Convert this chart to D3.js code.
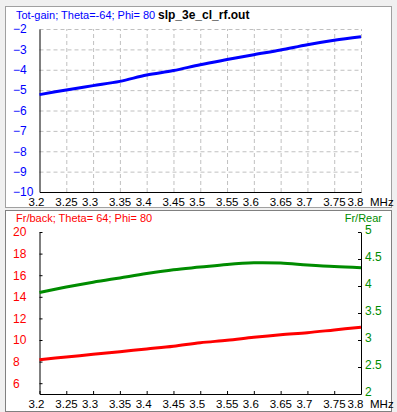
<!DOCTYPE html>
<html>
<head>
<meta charset="utf-8">
<script src="https://cdn.jsdelivr.net/npm/d3@7"></script>
<style>
  body { margin: 0; background: #f0f0f0; }
  svg { display: block; font-family: "Liberation Sans", Arial, sans-serif; }
  .grid line { stroke: #c0c0c0; stroke-dasharray: 4,3; }
  .grid path { display: none; }
</style>
</head>
<body>
<div id="chart"></div>
<script>
// frequency points (MHz)
const freqs = [3.2, 3.25, 3.3, 3.35, 3.4, 3.45, 3.5, 3.55, 3.6, 3.65, 3.7, 3.75, 3.8];
// top panel: total gain (dBi)
const totGain = [-5.22, -4.99, -4.78, -4.57, -4.26, -4.04, -3.75, -3.50, -3.26, -3.03, -2.77, -2.55, -2.38];
// bottom panel: front/back (left axis) and front/rear (right axis)
const frBack = [8.18, 8.43, 8.67, 8.92, 9.17, 9.42, 9.75, 9.97, 10.25, 10.49, 10.68, 10.93, 11.18];
const frRear = [3.88, 3.98, 4.07, 4.15, 4.23, 4.30, 4.35, 4.40, 4.43, 4.425, 4.39, 4.36, 4.34];

const xTicks = freqs;
const gainTicks = [-10, -9, -8, -7, -6, -5, -4, -3, -2];
const backTicks = [6, 8, 10, 12, 14, 16, 18, 20];
const rearTicks = [2, 2.5, 3, 3.5, 4, 4.5, 5];

const W = 397, H = 412;
const left = 39.5, right = 361;

const svg = d3.select('#chart').append('svg')
    .attr('width', W)
    .attr('height', H);

svg.append('rect').attr('width', W).attr('height', H).attr('fill', '#f0f0f0');

// panel frames
svg.append('rect').attr('x', 5.5).attr('y', 6.5).attr('width', 386).attr('height', 201)
    .attr('fill', '#fff').attr('stroke', '#a0a0a0');
svg.append('rect').attr('x', 5.5).attr('y', 210.5).attr('width', 386).attr('height', 201)
    .attr('fill', '#fff').attr('stroke', '#808080');

const x = d3.scaleLinear().domain([3.2, 3.8]).range([left, right]);

// ---------- top panel ----------
const topY0 = 192, topY1 = 29;
const yGain = d3.scaleLinear().domain([-10, -2]).range([topY0, topY1]);

// grid
svg.append('g')
    .attr('class', 'grid')
    .attr('transform', 'translate(0,' + topY0 + ')')
    .call(d3.axisBottom(x).tickValues(xTicks.slice(1)).tickSize(-(topY0 - topY1)).tickFormat(''));
svg.append('g')
    .attr('class', 'grid')
    .attr('transform', 'translate(' + left + ',0)')
    .call(d3.axisLeft(yGain).tickValues(gainTicks.slice(1)).tickSize(-(right - left)).tickFormat(''));

function drawXAxis(y0) {
    const g = svg.append('g')
        .attr('transform', 'translate(0,' + y0 + ')')
        .call(d3.axisBottom(x).tickValues(xTicks).tickSizeOuter(0).tickSizeInner(-3)
            .tickFormat(d3.format('')));
    g.select('.domain').attr('stroke', '#000');
    g.selectAll('.tick line').attr('stroke', '#000');
    g.selectAll('.tick text')
        .attr('text-anchor', 'start')
        .attr('x', (d, i) => i === xTicks.length - 1 ? -14 : -11.5)
        .attr('y', 14)
        .attr('dy', null)
        .attr('fill', '#000')
        .style('font-size', '11.5px');
    svg.append('text')
        .attr('x', 370).attr('y', y0 + 14)
        .style('font-size', '11.5px')
        .text('MHz');
    return g;
}

const topX = drawXAxis(topY0);
topX.selectAll('.tick line').attr('stroke', 'none');

const gainAxis = svg.append('g')
    .attr('transform', 'translate(' + left + ',0)')
    .call(d3.axisLeft(yGain).tickValues(gainTicks).tickSize(0).tickFormat(d3.format('')));
gainAxis.select('.domain').attr('stroke', '#000');
gainAxis.selectAll('.tick text')
    .attr('text-anchor', 'start')
    .attr('x', 13 - left)
    .attr('fill', '#0000ff')
    .style('font-size', '12px');

svg.append('path')
    .datum(freqs.map((f, i) => [f, totGain[i]]))
    .attr('fill', 'none')
    .attr('stroke', '#0000ff')
    .attr('stroke-width', 3)
    .attr('d', d3.line().x(d => x(d[0])).y(d => yGain(d[1])).curve(d3.curveCatmullRom));

svg.append('text')
    .attr('x', 16).attr('y', 19)
    .attr('fill', '#0000ff')
    .style('font-size', '11px')
    .text('Tot-gain; Theta=-64; Phi= 80');
svg.append('text')
    .attr('x', 158).attr('y', 19)
    .style('font-size', '12px')
    .style('font-weight', 'bold')
    .text('slp_3e_cl_rf.out');

// ---------- bottom panel ----------
const botY0 = 394, botY1 = 232;
const yBack = d3.scaleLinear().domain([5, 20]).range([botY0, botY1]);
const yRear = d3.scaleLinear().domain([2, 5]).range([botY0, botY1]);

drawXAxis(botY0);

const backAxis = svg.append('g')
    .attr('transform', 'translate(' + left + ',0)')
    .call(d3.axisLeft(yBack).tickValues(backTicks).tickSizeInner(-3).tickSizeOuter(0).tickFormat(d3.format('')));
backAxis.select('.domain').attr('stroke', '#000');
backAxis.selectAll('.tick line').attr('stroke', '#000');
backAxis.selectAll('.tick text')
    .attr('text-anchor', 'start')
    .attr('x', 13 - left)
    .attr('fill', '#ff0000')
    .style('font-size', '12px');

const rearAxis = svg.append('g')
    .attr('transform', 'translate(' + right + ',0)')
    .call(d3.axisRight(yRear).tickValues(rearTicks).tickSizeInner(-3).tickSizeOuter(0).tickFormat(d3.format('')));
rearAxis.select('.domain').attr('stroke', '#000');
rearAxis.selectAll('.tick line').attr('stroke', '#000');
rearAxis.selectAll('.tick text')
    .attr('text-anchor', 'start')
    .attr('x', 4)
    .attr('dy', '0.15em')
    .attr('fill', '#008c00')
    .style('font-size', '12px');

svg.append('path')
    .datum(freqs.map((f, i) => [f, frRear[i]]))
    .attr('fill', 'none')
    .attr('stroke', '#008c00')
    .attr('stroke-width', 3)
    .attr('d', d3.line().x(d => x(d[0])).y(d => yRear(d[1])).curve(d3.curveCatmullRom));

svg.append('path')
    .datum(freqs.map((f, i) => [f, frBack[i]]))
    .attr('fill', 'none')
    .attr('stroke', '#ff0000')
    .attr('stroke-width', 3)
    .attr('d', d3.line().x(d => x(d[0])).y(d => yBack(d[1])).curve(d3.curveCatmullRom));

svg.append('text')
    .attr('x', 16).attr('y', 222)
    .attr('fill', '#ff0000')
    .style('font-size', '11px')
    .text('Fr/back; Theta= 64; Phi= 80');
svg.append('text')
    .attr('x', 382).attr('y', 222)
    .attr('text-anchor', 'end')
    .attr('fill', '#008c00')
    .style('font-size', '11px')
    .text('Fr/Rear');
</script>
</body>
</html>
